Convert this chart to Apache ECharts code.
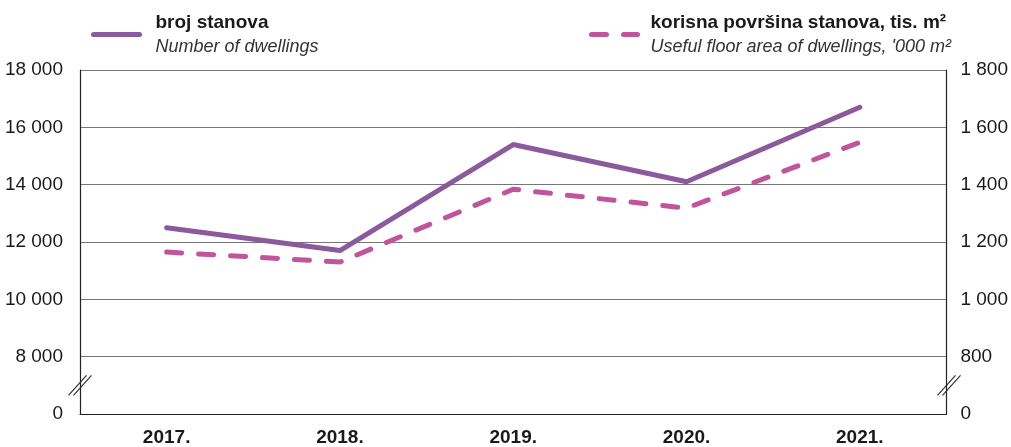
<!DOCTYPE html>
<html>
<head>
<meta charset="utf-8">
<script src="https://cdn.jsdelivr.net/npm/echarts@6/dist/echarts.min.js"></script>
<style>
    html, body { margin: 0; padding: 0; background: #fff; }
    #main { width: 1011px; height: 447px; }
</style>
</head>
<body>
<div id="main"></div>
<script>
    // godine
    var years = ['2017.', '2018.', '2019.', '2020.', '2021.'];
    // broj stanova
    var dwellings = [12500, 11700, 15400, 14100, 16700];
    // korisna površina, tis. m2
    var floorArea = [1165, 1130, 1384, 1318, 1548];

    var font = '"Liberation Sans Narrow", "Liberation Sans", Arial, sans-serif';
    var purple = '#8a5a9c';
    var pink = '#c0559b';

    function fmt(v) {
        var s = String(v);
        return s.length > 3 ? s.slice(0, s.length - 3) + ' ' + s.slice(-3) : s;
    }

    function legendRich(pad) {
        return {
            b: { fontFamily: font, fontSize: 19, fontWeight: 'bold', color: '#1a1a1a', lineHeight: 24, padding: [0, 0, 0, pad] },
            i: { fontFamily: font, fontSize: 18, fontStyle: 'italic', color: '#333', lineHeight: 24, padding: [0, 0, 0, pad] }
        };
    }

    var chart = echarts.init(document.getElementById('main'));
    var legendBase = {
        top: 13, padding: 0,
        itemWidth: 46, itemHeight: 10,
        itemStyle: { opacity: 0 },
        lineStyle: { width: 5, cap: 'round' }
    };
    var option = {
        animation: false,
        grid: { left: 80, right: 62, top: 70, bottom: 33 },
        legend: [Object.assign({}, legendBase, {
            data: ['broj stanova'],
            left: 91,
            textStyle: { rich: legendRich(11) },
            formatter: function () { return '{b|broj stanova}\n{i|Number of dwellings}'; }
        }), Object.assign({}, legendBase, {
            data: ['korisna površina'],
            left: 589,
            textStyle: { rich: legendRich(8) },
            formatter: function () { return '{b|korisna površina stanova, tis. m²}\n{i|Useful floor area of dwellings, \'000 m²}'; }
        })],
        xAxis: {
            type: 'category',
            data: years,
            boundaryGap: true,
            axisLine: { lineStyle: { color: '#222', width: 1.2 } },
            axisTick: { show: false },
            axisLabel: { fontFamily: font, fontSize: 19, fontWeight: 'bold', color: '#1a1a1a', margin: 14 }
        },
        yAxis: [{
            type: 'value', min: 6000, max: 18000, interval: 2000,
            axisLine: { show: true, lineStyle: { color: '#222', width: 1.2 } },
            axisTick: { show: false },
            splitLine: { lineStyle: { color: '#777', width: 1 } },
            axisLabel: {
                fontFamily: font, fontSize: 19, color: '#1a1a1a', margin: 17,
                formatter: function (v) { return v === 6000 ? '0' : fmt(v); }
            }
        }, {
            type: 'value', min: 600, max: 1800, interval: 200,
            axisLine: { show: true, lineStyle: { color: '#222', width: 1.2 } },
            axisTick: { show: false },
            splitLine: { show: false },
            axisLabel: {
                fontFamily: font, fontSize: 19, color: '#1a1a1a', margin: 14,
                formatter: function (v) { return v === 600 ? '0' : fmt(v); }
            }
        }],
        series: [{
            name: 'broj stanova',
            type: 'line',
            data: dwellings,
            yAxisIndex: 0,
            symbol: 'none',
            lineStyle: { color: purple, width: 5, cap: 'round', join: 'round' },
            itemStyle: { color: purple }
        }, {
            name: 'korisna površina',
            type: 'line',
            data: floorArea,
            yAxisIndex: 1,
            symbol: 'none',
            lineStyle: { color: pink, width: 5, type: [15, 17], cap: 'round', join: 'round' },
            itemStyle: { color: pink }
        }]
    };
    chart.setOption(option);

    // oznake prekida osi
    var yb = chart.convertToPixel({ yAxisIndex: 0 }, 7000);
    var xl = 80, xr = 1011 - 62;
    function slashes(x) {
        return [-2.5, 2.5].map(function (d) {
            return {
                type: 'line',
                shape: { x1: x - 9 + d, y1: yb + 10, x2: x + 9 + d, y2: yb - 10 },
                style: { stroke: '#333', lineWidth: 1.2 }
            };
        });
    }
    chart.setOption({ graphic: slashes(xl).concat(slashes(xr)) });
</script>
</body>
</html>
